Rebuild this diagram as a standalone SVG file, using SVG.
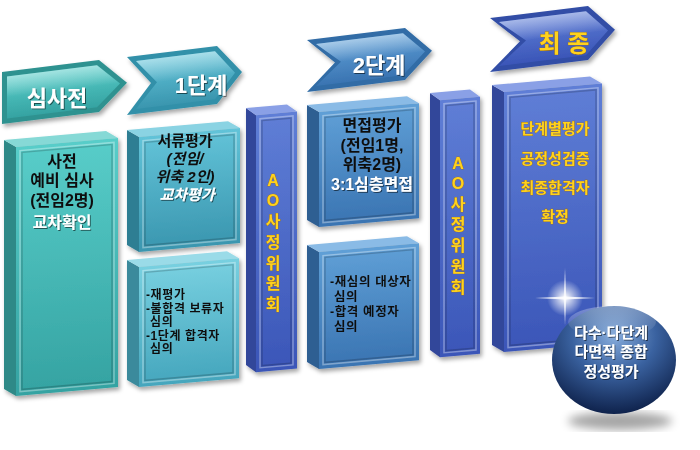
<svg xmlns="http://www.w3.org/2000/svg" width="700" height="450" viewBox="0 0 700 450">
<defs>
  <linearGradient id="tealF" x1="0" y1="0" x2="0" y2="1"><stop offset="0" stop-color="#58cdc9"/><stop offset="1" stop-color="#35a3a2"/></linearGradient>
  <linearGradient id="cyanF" x1="0" y1="0" x2="0" y2="1"><stop offset="0" stop-color="#62c3d8"/><stop offset="1" stop-color="#3a96af"/></linearGradient>
  <linearGradient id="cyanL" x1="0" y1="0" x2="0" y2="1"><stop offset="0" stop-color="#78d0e0"/><stop offset="1" stop-color="#45a6bd"/></linearGradient>
  <linearGradient id="steelF" x1="0" y1="0" x2="0" y2="1"><stop offset="0" stop-color="#5f9fd6"/><stop offset="1" stop-color="#3a74b2"/></linearGradient>
  <linearGradient id="blueF" x1="0" y1="0" x2="0" y2="1"><stop offset="0" stop-color="#5f7ed6"/><stop offset="1" stop-color="#3b56b8"/></linearGradient>
  <radialGradient id="sphere" cx="0.5" cy="0.28" r="0.75"><stop offset="0" stop-color="#86acdc"/><stop offset="0.45" stop-color="#3a62a0"/><stop offset="1" stop-color="#0b1d45"/></radialGradient>
  <radialGradient id="glow" cx="0.5" cy="0.5" r="0.5"><stop offset="0" stop-color="#ffffff" stop-opacity="1"/><stop offset="0.3" stop-color="#ffffff" stop-opacity="0.7"/><stop offset="1" stop-color="#ffffff" stop-opacity="0"/></radialGradient>
  <linearGradient id="hl" x1="0" y1="0" x2="0" y2="1"><stop offset="0" stop-color="#ffffff" stop-opacity="0.45"/><stop offset="1" stop-color="#ffffff" stop-opacity="0"/></linearGradient>
  <filter id="ds" x="-20%" y="-20%" width="140%" height="140%"><feDropShadow dx="2" dy="3" stdDeviation="2" flood-color="#000" flood-opacity="0.35"/></filter>
  <filter id="ts" x="-20%" y="-30%" width="140%" height="160%"><feDropShadow dx="1" dy="1" stdDeviation="0.7" flood-color="#000" flood-opacity="0.55"/></filter>
  <filter id="blur"><feGaussianBlur stdDeviation="5"/></filter>
  <style>
    text { font-family: "Liberation Sans", "Noto Sans CJK KR", sans-serif; font-weight: bold; }
    .c { text-anchor: middle; }
    .blk { fill: #111; font-size: 16px; }
    .wht { fill: #fff; font-size: 16px; filter: url(#ts); }
    .lst { fill: #111; font-size: 12px; letter-spacing: 0.6px; }
    .yel { fill: #ffd21a; stroke: #a86a00; stroke-width: 0.6; paint-order: stroke; font-size: 16px; }
    .arw { fill: #fff; font-size: 22px; filter: url(#ts); }
    .frame { fill: none; stroke: #ffffff; stroke-opacity: 0.35; stroke-width: 1.5; }
    .frame2 { fill: none; stroke: #000; stroke-opacity: 0.18; stroke-width: 1.5; }
  </style>
</defs>
<rect width="700" height="450" fill="#ffffff"/>

<!-- Stage 0: 심사전 -->
<g id="arrow-pre" filter="url(#ds)">
  <g transform="translate(2,72) skewY(-7)">
    <polygon points="0,0 97,0 125,26 97,52 0,52" fill="#2f9290"/>
    <polygon points="5,5 95,5 118,26 95,47 5,47" fill="url(#tealF)"/>
    <polygon points="5,5 95,5 118,26 5,26" fill="url(#hl)"/>
  </g>
  <text class="arw c" x="57" y="106">심사전</text>
</g>
<g id="box-pre" filter="url(#ds)">
  <g transform="translate(4,140) skewY(-5)">
    <polygon points="0,0 12,8 12,257 0,249" fill="#2d8987"/>
    <polygon points="0,0 102,0 114,8 12,8" fill="#86d9d6"/>
    <rect x="12" y="8" width="102" height="249" fill="url(#tealF)"/>
    <rect x="16" y="12" width="94" height="241" class="frame"/>
    <rect x="18" y="14" width="90" height="237" class="frame2"/>
  </g>
  <text class="blk c" x="62" y="167">사전</text>
  <text class="blk c" x="62" y="186">예비 심사</text>
  <text class="blk c" x="62" y="206">(전임2명)</text>
  <text class="wht c" x="62" y="228">교차확인</text>
</g>

<!-- Stage 1 -->
<g id="arrow-1" filter="url(#ds)">
  <g transform="translate(127,57) skewY(-7)">
    <polygon points="0,0 90,0 115,29 90,58 0,58 24,29" fill="#3290a9"/>
    <polygon points="9,5 88,5 108,29 88,53 9,53 30,29" fill="url(#cyanF)"/>
    <polygon points="9,5 88,5 108,29 30,29" fill="url(#hl)"/>
  </g>
  <text class="arw c" x="201" y="93">1단계</text>
</g>
<g id="box-1a" filter="url(#ds)">
  <g transform="translate(127,130) skewY(-5)">
    <polygon points="0,0 12,8 12,123 0,115" fill="#2f7e93"/>
    <polygon points="0,0 101,0 113,8 12,8" fill="#8ad3e3"/>
    <rect x="12" y="8" width="101" height="115" fill="url(#cyanF)"/>
    <rect x="16" y="12" width="93" height="107" class="frame"/>
    <rect x="18" y="14" width="89" height="103" class="frame2"/>
  </g>
  <text class="blk c" x="185" y="146" style="font-size:15px">서류평가</text>
  <text class="blk c" x="185" y="164" font-style="italic" style="font-size:15px">(전임/</text>
  <text class="blk c" x="185" y="182" font-style="italic" style="font-size:15px">위축 2인)</text>
  <text class="wht c" x="187" y="200" font-style="italic" style="font-size:15px">교차평가</text>
</g>
<g id="box-1b" filter="url(#ds)">
  <g transform="translate(127,260) skewY(-5)">
    <polygon points="0,0 12,8 12,128 0,120" fill="#3a8a9c"/>
    <polygon points="0,0 100,0 112,8 12,8" fill="#9adbe8"/>
    <rect x="12" y="8" width="100" height="120" fill="url(#cyanL)"/>
    <rect x="16" y="12" width="92" height="112" class="frame"/>
    <rect x="18" y="14" width="88" height="108" class="frame2"/>
  </g>
  <text class="lst" x="146" y="299">-재평가</text>
  <text class="lst" x="146" y="312.5">-불합격 보류자</text>
  <text class="lst" x="150" y="326">심의</text>
  <text class="lst" x="146" y="339.5">-1단계 합격자</text>
  <text class="lst" x="150" y="353">심의</text>
</g>
<g id="ao-1" filter="url(#ds)">
  <g transform="translate(246,108) skewY(-5)">
    <polygon points="0,0 10,8 10,265 0,257" fill="#33479a"/>
    <polygon points="0,0 41,0 51,8 10,8" fill="#8aa0e6"/>
    <rect x="10" y="8" width="41" height="257" fill="url(#blueF)"/>
    <rect x="14" y="12" width="33" height="249" class="frame"/>
    <rect x="16" y="14" width="29" height="245" class="frame2"/>
  </g>
  <text class="yel c" x="273" y="186">A</text>
  <text class="yel c" x="273" y="206">O</text>
  <text class="yel c" x="273" y="227">사</text>
  <text class="yel c" x="273" y="248">정</text>
  <text class="yel c" x="273" y="269">위</text>
  <text class="yel c" x="273" y="289">원</text>
  <text class="yel c" x="273" y="310">회</text>
</g>

<!-- Stage 2 -->
<g id="arrow-2" filter="url(#ds)">
  <g transform="translate(307,40) skewY(-7)">
    <polygon points="0,0 98,0 125,26 98,52 0,52 28,26" fill="#306ca6"/>
    <polygon points="9,5 96,5 118,26 96,47 9,47 34,26" fill="url(#steelF)"/>
    <polygon points="9,5 96,5 118,26 34,26" fill="url(#hl)"/>
  </g>
  <text class="arw c" x="379" y="73">2단계</text>
</g>
<g id="box-2a" filter="url(#ds)">
  <g transform="translate(307,105) skewY(-5)">
    <polygon points="0,0 12,8 12,123 0,115" fill="#2f5e92"/>
    <polygon points="0,0 100,0 112,8 12,8" fill="#8abbe6"/>
    <rect x="12" y="8" width="100" height="115" fill="url(#steelF)"/>
    <rect x="16" y="12" width="92" height="107" class="frame"/>
    <rect x="18" y="14" width="88" height="103" class="frame2"/>
  </g>
  <text class="blk c" x="372" y="131">면접평가</text>
  <text class="blk c" x="372" y="151">(전임1명,</text>
  <text class="blk c" x="372" y="170">위축2명)</text>
  <text class="wht c" x="372" y="190">3:1심층면접</text>
</g>
<g id="box-2b" filter="url(#ds)">
  <g transform="translate(307,245) skewY(-5)">
    <polygon points="0,0 12,8 12,125 0,117" fill="#2f5e92"/>
    <polygon points="0,0 100,0 112,8 12,8" fill="#8abbe6"/>
    <rect x="12" y="8" width="100" height="117" fill="url(#steelF)"/>
    <rect x="16" y="12" width="92" height="109" class="frame"/>
    <rect x="18" y="14" width="88" height="105" class="frame2"/>
  </g>
  <text class="lst" x="330" y="286" style="font-size:12.5px">-재심의 대상자</text>
  <text class="lst" x="334" y="301" style="font-size:12.5px">심의</text>
  <text class="lst" x="330" y="316" style="font-size:12.5px">-합격 예정자</text>
  <text class="lst" x="334" y="331" style="font-size:12.5px">심의</text>
</g>
<g id="ao-2" filter="url(#ds)">
  <g transform="translate(430,93) skewY(-5)">
    <polygon points="0,0 10,8 10,265 0,257" fill="#33479a"/>
    <polygon points="0,0 40,0 50,8 10,8" fill="#8aa0e6"/>
    <rect x="10" y="8" width="40" height="257" fill="url(#blueF)"/>
    <rect x="14" y="12" width="32" height="249" class="frame"/>
    <rect x="16" y="14" width="28" height="245" class="frame2"/>
  </g>
  <text class="yel c" x="458" y="169">A</text>
  <text class="yel c" x="458" y="189">O</text>
  <text class="yel c" x="458" y="210">사</text>
  <text class="yel c" x="458" y="230">정</text>
  <text class="yel c" x="458" y="251">위</text>
  <text class="yel c" x="458" y="272">원</text>
  <text class="yel c" x="458" y="293">회</text>
</g>

<!-- Final -->
<g id="arrow-final" filter="url(#ds)">
  <g transform="translate(490,18) skewY(-7)">
    <polygon points="0,0 98,0 125,27 98,54 0,54 30,27" fill="#314da6"/>
    <polygon points="9,5 96,5 118,27 96,49 9,49 36,27" fill="url(#blueF)"/>
    <polygon points="9,5 96,5 118,27 36,27" fill="url(#hl)"/>
  </g>
  <text class="yel c" x="564" y="52" style="font-size:24px">최 종</text>
</g>
<g id="box-final" filter="url(#ds)">
  <g transform="translate(492,85) skewY(-5)">
    <polygon points="0,0 12,8 12,268 0,260" fill="#33479a"/>
    <polygon points="0,0 98,0 110,8 12,8" fill="#8aa0e6"/>
    <rect x="12" y="8" width="98" height="260" fill="url(#blueF)"/>
    <rect x="16" y="12" width="90" height="252" class="frame"/>
    <rect x="18" y="14" width="86" height="248" class="frame2"/>
  </g>
  <text class="yel c" x="555" y="134" style="font-size:15px">단계별평가</text>
  <text class="yel c" x="555" y="164" style="font-size:15px">공정성검증</text>
  <text class="yel c" x="555" y="193" style="font-size:15px">최종합격자</text>
  <text class="yel c" x="555" y="222" style="font-size:15px">확정</text>
</g>

<!-- Sphere -->
<g id="sphere-node">
  <ellipse cx="620" cy="421" rx="52" ry="9" fill="#000" opacity="0.35" filter="url(#blur)"/>
  <ellipse cx="614" cy="360" rx="62" ry="54" fill="url(#sphere)"/>
  <ellipse cx="612" cy="322" rx="44" ry="16" fill="url(#hl)" opacity="0.7"/>
  <text class="wht c" x="611" y="338" style="font-size:15px">다수·다단계</text>
  <text class="wht c" x="611" y="357" style="font-size:15px">다면적 종합</text>
  <text class="wht c" x="611" y="377" style="font-size:15px">정성평가</text>
</g>

<!-- sparkle -->
<g id="sparkle">
  <circle cx="565" cy="298" r="18" fill="url(#glow)"/>
  <polygon points="535,298 565,296.5 595,298 565,299.5" fill="#ffffff" opacity="0.85"/>
  <polygon points="565,268 566.3,298 565,325 563.7,298" fill="#ffffff" opacity="0.75"/>
</g>
</svg>
